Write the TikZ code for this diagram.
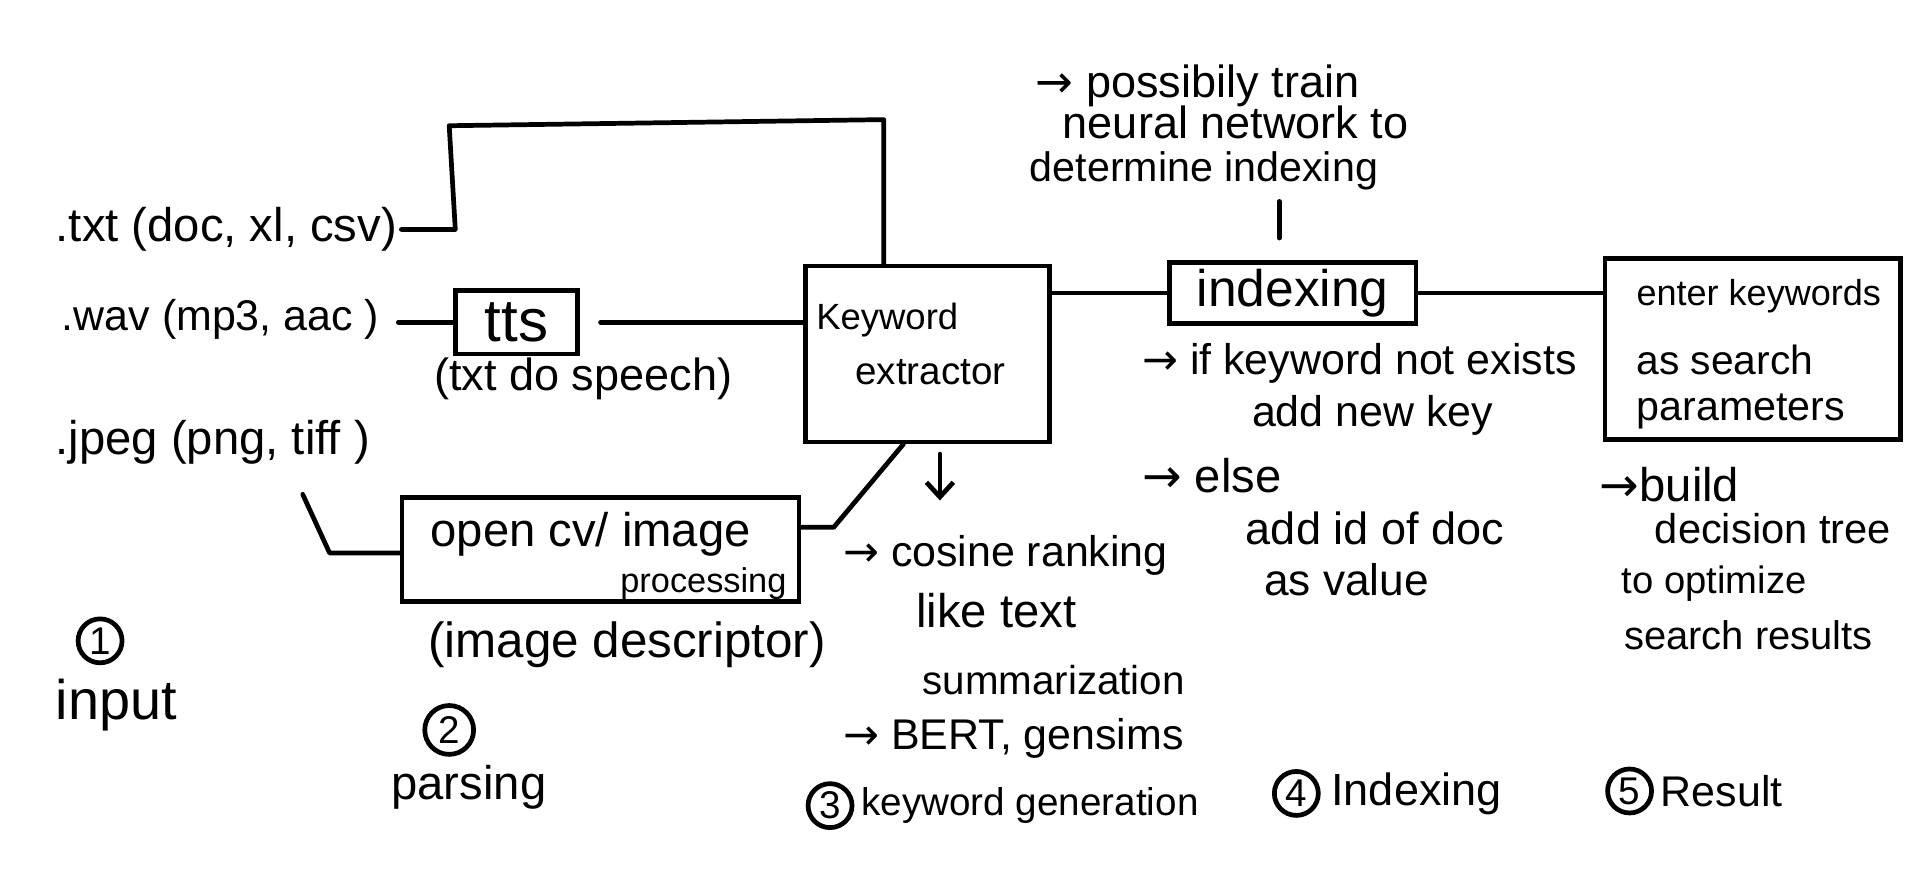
\documentclass[tikz,border=0pt]{standalone}
\usepackage{fontspec}
\setmainfont{Liberation Sans}
\newfontfamily\arrfont{DejaVu Sans}
\newcommand{\arrowglyph}{{\arrfont →}}
\usetikzlibrary{arrows.meta}
\tikzset{
  lab/.style={anchor=west, inner sep=0pt, font=\fontsize{#1}{#1}\selectfont},
  con/.style={line width=1.1pt, line cap=round, line join=round},
  boxn/.style={draw, line width=1.1pt, inner sep=0pt},
  num/.style={draw, circle, line width=1.1pt, inner sep=0pt, minimum size=0.36cm, font=\fontsize{9}{9}\selectfont}
}
\begin{document}
\begin{tikzpicture}[x=0.01cm,y=-0.01cm]
\useasboundingbox (0,0) rectangle (1568,712);
\fill[white] (0,0) rectangle (1568,712);

% inputs
\node[lab=11] (txt) at (45,188) {.txt (doc, xl, csv)};
\node[lab=10] (wav) at (50,262) {.wav (mp3, aac )};
\node[lab=11] (jpg) at (45,362) {.jpeg (png, tiff )};
\node[num] (c1) at (82,525) {1};
\node[lab=13] (input) at (45,578) {input};

% parsing
\node[boxn, minimum width=1.0cm, minimum height=0.52cm, font=\fontsize{14}{14}\selectfont] (tts) at (423,264) {tts};
\node[lab=10.5] (ttsl) at (355,310) {(txt do speech)};
\node[boxn, minimum width=3.25cm, minimum height=0.85cm] (ocv) at (492,450) {};
\node[lab=11] (ocvt) at (352,438) {open cv/ image};
\node[lab=8, anchor=east] (ocvp) at (645,478) {processing};
\node[lab=11.5] (imgd) at (350,528) {(image descriptor)};
\node[num, minimum size=0.4cm] (c2) at (368,598) {2};
\node[lab=11] (parsing) at (320,645) {parsing};

% keyword extractor
\node[boxn, minimum width=2.0cm, minimum height=1.44cm] (kw) at (760,290) {};
\node[lab=8.5] (kwa) at (668,262) {Keyword};
\node[lab=9] (kwb) at (700,305) {extractor};
\node[lab=10] (k1) at (690,455) {\arrowglyph\ cosine ranking};
\node[lab=11] (k2) at (750,500) {like text};
\node[lab=9.4] (k3) at (755,557) {summarization};
\node[lab=10] (k4) at (690,605) {\arrowglyph\ BERT, gensims};
\node[num] (c3) at (680,660) {3};
\node[lab=9] (k5) at (705,660) {keyword generation};

% indexing
\node[lab=10.5] (n1) at (848,70) {\arrowglyph\ possibily train};
\node[lab=10.5] (n2) at (870,100) {neural network to};
\node[lab=9.6] (n3) at (843,140) {determine indexing};
\node[boxn, minimum width=2.02cm, minimum height=0.5cm, font=\fontsize{12}{12}\selectfont] (idx) at (1059,240) {indexing};
\node[lab=10] (i1) at (935,298) {\arrowglyph\ if keyword not exists};
\node[lab=10] (i2) at (1025,340) {add new key};
\node[lab=11] (i3) at (935,390) {\arrowglyph\ else};
\node[lab=10.5] (i4) at (1020,433) {add id of doc};
\node[lab=10.3] (i5) at (1035,475) {as value};
\node[num] (c4) at (1062,650) {4};
\node[lab=10.5] (i6) at (1090,650) {Indexing};

% result
\node[boxn, minimum width=2.42cm, minimum height=1.48cm] (res) at (1436,286) {};
\node[lab=8.4] (r1) at (1340,243) {enter keywords};
\node[lab=9.5] (r2) at (1340,295) {as search};
\node[lab=9.6] (r3) at (1340,337) {parameters};
\node[lab=11] (r4) at (1310,397) {\arrowglyph build};
\node[lab=9.7] (r5) at (1355,433) {decision tree};
\node[lab=8.9] (r6) at (1328,478) {to optimize};
\node[lab=9.3] (r7) at (1330,520) {search results};
\node[num] (c5) at (1335,648) {5};
\node[lab=10] (r8) at (1360,648) {Result};

% connectors
\coordinate (t1) at (373,188);
\coordinate (t2) at (368,103);
\coordinate (t3) at (724,98);
\draw[con, shorten <=0.03cm] (txt.east) -- (t1) -- (t2) -- (t3) -- (t3 |- kw.north);
\draw[con, shorten <=0.15cm] (wav.east |- tts.west) -- (tts.west);
\draw[con, shorten <=0.17cm] (tts.east) -- (tts.east -| kw.west);
\coordinate (j1) at (248,405);
\coordinate (j2) at (270,453);
\draw[con] (j1) -- (j2) -- (j2 -| ocv.west);
\coordinate (o1) at (683,432);
\draw[con] (ocv.east |- o1) -- (o1) -- ([xshift=-0.2cm]kw.south);
\draw[con] (kw.east |- idx.west) -- (idx.west);
\draw[con] (idx.east) -- (idx.east -| res.west);
\coordinate (tk) at (1048,165);
\draw[con] (tk) -- ++(0,30);
\coordinate (da) at (770,372);
\draw[con, -{Straight Barb[length=1.2mm, width=2.2mm]}] (da) -- ++(0,38);
\end{tikzpicture}
\end{document}
